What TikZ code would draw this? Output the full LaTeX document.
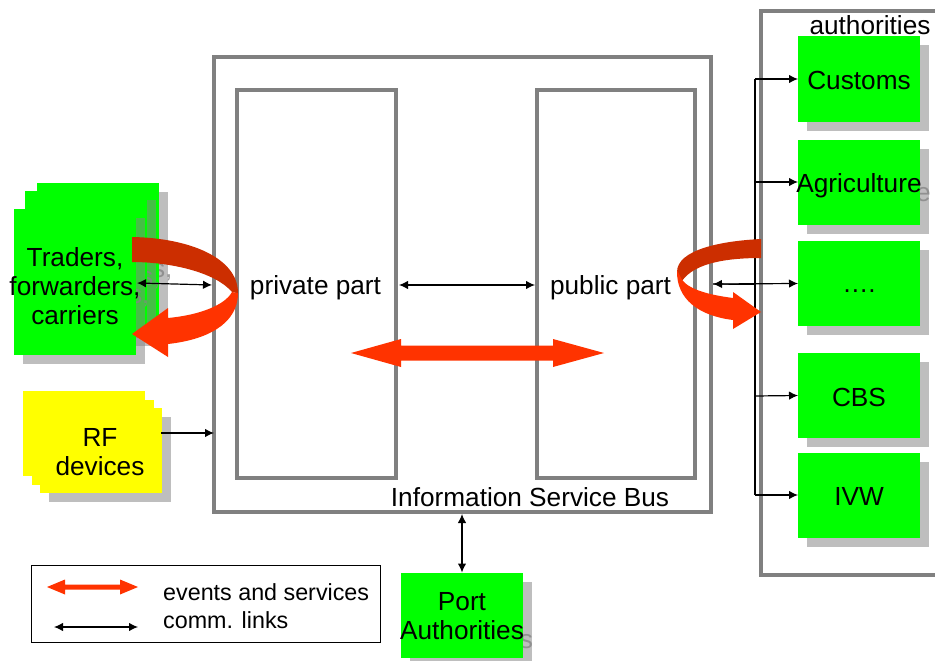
\documentclass[tikz,border=0pt]{standalone}
\usepackage{fontspec}
\setmainfont{Liberation Sans}
\usetikzlibrary{arrows.meta}
\definecolor{frameg}{HTML}{808080}
\definecolor{shadowg}{RGB}{133,133,133}
\definecolor{bandorange}{HTML}{FF3300}
\definecolor{banddark}{HTML}{CC2E00}
\definecolor{boxgreen}{HTML}{00FF00}
\definecolor{boxyellow}{HTML}{FFFF00}
\tikzset{
  frame/.style={draw=frameg,line width=4.8pt,fill=none,inner sep=0pt},
  shadowrect/.style={fill=shadowg,fill opacity=.525,inner sep=0pt,outer sep=0pt},
  ghost/.style={text=shadowg,text opacity=.8,inner sep=0pt,align=center,font=\mainfs},
  solid box/.style={inner sep=0pt,outer sep=0pt},
  label/.style={inner sep=0pt,align=center,font=\mainfs,text=black},
  legendtext/.style={inner sep=0pt,anchor=west,font=\legfs,text=black},
  link/.style={draw=black,line width=1.2pt},
  both/.style={link,{Latex[length=9pt,width=8.5pt]}-{Latex[length=9pt,width=8.5pt]}},
  one/.style={link,-{Latex[length=9pt,width=8.5pt]}},
  flow/.style={fill=bandorange,draw=none},
  flowdark/.style={fill=banddark,draw=none},
}
\newcommand{\mainfs}{\fontsize{26.2}{29}\selectfont}
\newcommand{\legfs}{\fontsize{23.3}{27}\selectfont}
% name, cx, cy, w, h, colour, ghost text (text y offset from box centre in #8)
\newcommand{\layerbox}[8]{%
  \node[shadowrect,minimum width=#4,minimum height=#5] at ({#2+9},{#3+9}) {};
  \node[ghost] at ({#2+9},{#3+9+#8}) {#7};
  \node[solid box,fill=#6,minimum width=#4,minimum height=#5] (#1) at (#2,#3) {};
}
\begin{document}
\begin{tikzpicture}[x=1pt,y=-1pt]
\useasboundingbox (0,0) rectangle (935,661);
\fill[white] (0,0) rectangle (935,661);

% frames
\node[frame,minimum width=497,minimum height=455] (bus) at (462.5,284.5) {};
\node[frame,minimum width=159,minimum height=388] (priv) at (316.5,284) {};
\node[frame,minimum width=158,minimum height=388] (pub) at (616,284) {};
\draw[draw=frameg,line width=4.8pt] (945,11) -- (761,11) -- (761,575) -- (945,575);

% authorities
\layerbox{customs}{859}{79}{122}{85}{boxgreen}{Customs}{2}
\layerbox{agri}{859}{182}{122}{85}{boxgreen}{Agriculture}{4}
\layerbox{dots}{859}{283.5}{122}{85}{boxgreen}{….}{8}
\layerbox{cbs}{859}{395.5}{122}{85}{boxgreen}{CBS}{2}
\layerbox{ivw}{859}{495}{122}{85}{boxgreen}{IVW}{2}
\layerbox{port}{462}{615}{122}{85}{boxgreen}{Port\\Authorities}{1}

% traders stack
\newcommand{\tradertext}{Traders,\\forwarders,\\carriers}
\layerbox{tr3}{98}{256}{122}{146}{boxgreen}{\tradertext}{3}
\layerbox{tr2}{86}{264}{122}{146}{boxgreen}{\tradertext}{3}
\layerbox{tr1}{75}{282}{122}{146}{boxgreen}{\tradertext}{3}

% RF stack
\node[solid box,fill=boxyellow,minimum width=122,minimum height=85] (rf3) at (84,433.5) {};
\node[solid box,fill=boxyellow,minimum width=122,minimum height=85] (rf2) at (92.5,442) {};
\layerbox{rf1}{100.5}{450.5}{122}{85}{boxyellow}{RF\\devices}{2}

% labels
\node[label] (tradersl) at (75,286) {\tradertext};
\node[label] (rfl) at (100,452) {RF\\devices};
\node[label] at (859,80) {Customs};
\node[label] at (859,186) {Agriculture};
\node[label] at (859,291) {….};
\node[label] at (859,397) {CBS};
\node[label] at (859,496.5) {IVW};
\node[label] at (462,616) {Port\\Authorities};
\node[label] (authl) at (870,25) {authorities};
\node[label] (privl) at (315.5,288) {private part};
\node[label] (publ) at (610.5,288) {public part};
\node[label] (busl) at (530,497) {Information Service Bus};

% links
\coordinate (branchtop) at (755,79);
\coordinate (branchbot) at (755,495);
\draw[link] (branchtop) -- (branchbot);
\draw[one] (branchtop) -- (customs.west);
\draw[one] (755,182) -- (agri.west);
\draw[one] (755,396) -- (cbs.west);
\draw[one] (branchbot) -- (ivw.west);
\coordinate (pubr) at (713,284);
\draw[both] (pubr) -- (dots.west);
\draw[link] (pubr) -- (755,284.4);
\coordinate (trr) at (137,283);
\coordinate (pl) at (212,285);
\draw[both] (trr) -- (pl);
\coordinate (plr) at (399,285);
\coordinate (pbl) at (535,285);
\draw[both] (plr) -- (pbl);
\coordinate (rfr) at (161,433);
\coordinate (busw) at (214,433);
\draw[one] (rfr) -- (busw);
\coordinate (buss) at (462,514);
\draw[both] (buss) -- (port.north);

% curved flows
\fill[flowdark] (132,237) .. controls (190,238) and (238,258) .. (238,293)
   -- (232,292) .. controls (215,272) and (170,262) .. (132,262) -- cycle;
\fill[flow] (238,293) .. controls (238,325) and (205,340) .. (168,344)
   -- (168,357) -- (132,334) -- (168,308) -- (168,318)
   .. controls (200,315) and (225,305) .. (232,292) -- cycle;
\fill[flowdark] (761,239) .. controls (720,241) and (677,250) .. (677,272)
   -- (682,281) .. controls (695,262) and (730,258) .. (761,258) -- cycle;
\fill[flow] (677,270) .. controls (676,300) and (700,316) .. (733,320)
   -- (733,329) -- (761,312) -- (733,292) -- (733,298)
   .. controls (710,295) and (690,290) .. (682,280) -- cycle;

% central flow
\coordinate (cl) at (351,353);
\coordinate (cr) at (604,353);
\fill[flow] (cl) -- (401,339) -- (401,345.5) -- (553,345.5) -- (553,339) -- (cr)
   -- (553,367) -- (553,360.5) -- (401,360.5) -- (401,367) -- cycle;

% legend
\node[draw=black,line width=1pt,minimum width=349,minimum height=77,inner sep=0pt] (legend) at (205.5,603.5) {};
\coordinate (l1a) at (47,587);
\coordinate (l1b) at (138,587);
\fill[flow] (l1a) -- (65,579.5) -- (65,584.5) -- (120,584.5) -- (120,579.5) -- (l1b)
   -- (120,594.5) -- (120,589.5) -- (65,589.5) -- (65,594.5) -- cycle;
\node[legendtext] (leg1) at (163,592) {events and services};
\node[legendtext] (leg2) at (163,620) {comm. links};
\coordinate (l2a) at (54,627);
\coordinate (l2b) at (138,627);
\draw[both] (l2a) -- (l2b);
\end{tikzpicture}
\end{document}
